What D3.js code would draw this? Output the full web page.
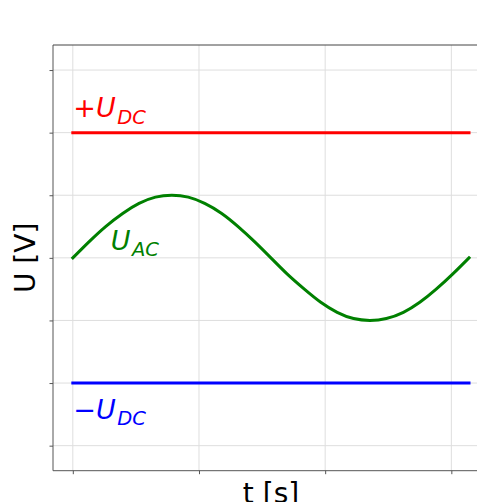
<!DOCTYPE html>
<html>
<head>
<meta charset="utf-8">
<script src="https://cdn.jsdelivr.net/npm/d3@7"></script>
<style>
	body { margin: 0; background: #fff; }
	svg { display: block; }
	text { font-family: "DejaVu Sans", sans-serif; }
</style>
</head>
<body>
<svg id="chart"></svg>
<script>
const width = 477
const height = 502

// values
const tTicks = [0, 2, 4, 6]
const uTicks = [-3, -2, -1, 0, 1, 2, 3]
const tSamples = [0, 0.26, 0.52, 0.79, 1.05, 1.31, 1.57, 1.83, 2.09, 2.36, 2.62, 2.88, 3.14,
	3.40, 3.67, 3.93, 4.19, 4.45, 4.71, 4.97, 5.24, 5.50, 5.76, 6.02, 6.28]
const uAC = [0, 0.26, 0.5, 0.71, 0.87, 0.97, 1, 0.97, 0.87, 0.71, 0.5, 0.26, 0,
	-0.26, -0.5, -0.71, -0.87, -0.97, -1, -0.97, -0.87, -0.71, -0.5, -0.26, 0]
const uDCplus = [2, 2]
const uDCminus = [-2, -2]
const tDC = [0, 6.28]

const x = d3.scaleLinear().domain([-0.314, 6.597]).range([53, 489])
const y = d3.scaleLinear().domain([-3.4, 3.4]).range([470.7, 45])

const svg = d3.select("#chart")
	.attr("width", width)
	.attr("height", height)

// grid
svg.append("g")
	.selectAll("line")
	.data(tTicks)
	.enter().append("line")
	.attr("x1", d => x(d)).attr("x2", d => x(d))
	.attr("y1", y.range()[0]).attr("y2", y.range()[1])
	.attr("stroke", "#dedede")
	.attr("stroke-width", 1)

svg.append("g")
	.selectAll("line")
	.data(uTicks)
	.enter().append("line")
	.attr("x1", x.range()[0]).attr("x2", x.range()[1])
	.attr("y1", d => y(d)).attr("y2", d => y(d))
	.attr("stroke", "#dedede")
	.attr("stroke-width", 1)

// axes, no tick labels
const xAxis = svg.append("g")
	.attr("transform", `translate(0, ${y.range()[0]})`)
	.call(d3.axisBottom(x).tickValues(tTicks).tickSize(3.5).tickFormat(""))
const yAxis = svg.append("g")
	.attr("transform", `translate(${x.range()[0]}, 0)`)
	.call(d3.axisLeft(y).tickValues(uTicks).tickSize(3.5).tickFormat(""))
xAxis.selectAll("path, line").attr("stroke", "#555")
yAxis.selectAll("path, line").attr("stroke", "#555")
xAxis.select(".domain").attr("d", `M${x.range()[0]},0H${x.range()[1]}`)
yAxis.select(".domain").attr("d", `M0,${y.range()[0]}V${y.range()[1]}`)

// top spine
svg.append("line")
	.attr("x1", x.range()[0]).attr("x2", x.range()[1])
	.attr("y1", y.range()[1]).attr("y2", y.range()[1])
	.attr("stroke", "#444")

// lines
const line = d3.line()
	.x(d => x(d[0]))
	.y(d => y(d[1]))

const series = [
	{ pts: d3.zip(tDC, uDCplus), color: "#ff0000", curve: d3.curveLinear },
	{ pts: d3.zip(tDC, uDCminus), color: "#0000ff", curve: d3.curveLinear },
	{ pts: d3.zip(tSamples, uAC), color: "#008000", curve: d3.curveNatural }
]

svg.append("g")
	.selectAll("path")
	.data(series)
	.enter().append("path")
	.attr("d", d => line.curve(d.curve)(d.pts))
	.attr("fill", "none")
	.attr("stroke", d => d.color)
	.attr("stroke-width", 3)
	.attr("stroke-linecap", "square")

// math labels
function mathLabel(px, py, sign, sub, color) {
	const t = svg.append("text")
		.attr("x", px)
		.attr("y", py)
		.attr("fill", color)
		.style("font-size", "27px")
	if (sign) t.append("tspan").text(sign)
	t.append("tspan").style("font-style", "italic").text("U")
	t.append("tspan")
		.style("font-style", "italic")
		.style("font-size", "19.5px")
		.attr("dx", 1.5)
		.attr("dy", 6.6)
		.text(sub)
}

mathLabel(x(0) + 0.5, y(2.25), "+", "DC", "#ff0000")
mathLabel(x(0.6), y(0.13), "", "AC", "#008000")
mathLabel(x(0) + 0.5, y(-2.57), "\u2212", "DC", "#0000ff")

// axis titles
svg.append("text")
	.attr("x", (x.range()[0] + x.range()[1]) / 2)
	.attr("y", 503)
	.attr("text-anchor", "middle")
	.style("font-size", "28px")
	.text("t [s]")

svg.append("text")
	.attr("transform", `translate(35, ${(y.range()[0] + y.range()[1]) / 2}) rotate(-90)`)
	.attr("text-anchor", "middle")
	.style("font-size", "28px")
	.text("U [V]")
</script>
</body>
</html>
